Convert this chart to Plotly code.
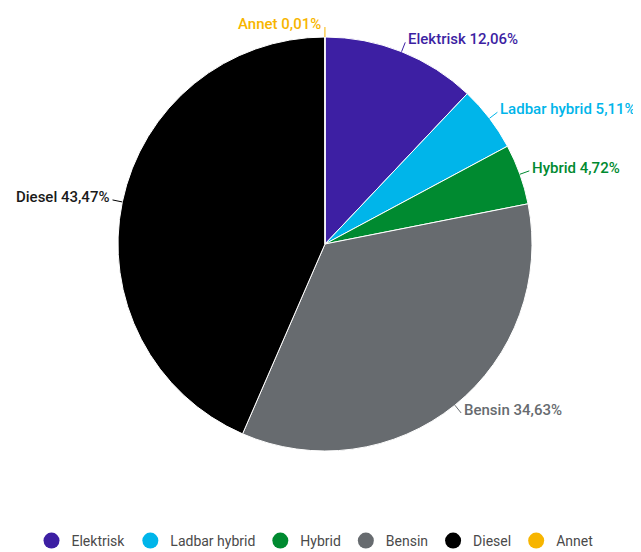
import math
import plotly.graph_objects as go

labels = ["Elektrisk", "Ladbar hybrid", "Hybrid", "Bensin", "Diesel", "Annet"]
values = [12.06, 5.11, 4.72, 34.63, 43.47, 0.01]
colors = ["#3D1FA3", "#00B5EA", "#008A30", "#676B6F", "#000000", "#F7B500"]
text_colors = ["#3D1FA3", "#00B5EA", "#008A30", "#676B6F", "#1A1A1A", "#F7B500"]

# page body has an 8px margin, so the figure is drawn 8px smaller
W, H = 633, 544
ML, MT = 2, 29
PW, PH = 630, 414
MR, MB = W - ML - PW, H - MT - PH
R = min(PW, PH) / 2
CX, CY = ML + PW / 2, MT + PH / 2
DIST = 10
GAP = 1
TEXT_DY = -3
LEGEND_Y = 533  # figure px


def to_paper(px, py):
    return (px - ML) / PW, 1 - (py - MT) / PH


fig = go.Figure()
fig.add_trace(go.Pie(
    labels=labels, values=values, sort=False, direction="clockwise", rotation=0,
    marker=dict(colors=colors, line=dict(color="#FFFFFF", width=1)),
    textinfo="none", showlegend=False, hoverinfo="label+value",
    domain=dict(x=[0, 1], y=[0, 1]),
))
for lab, col in zip(labels, colors):
    fig.add_trace(go.Scatter(x=[None], y=[None], mode="markers", name=lab,
                             marker=dict(color=col, size=16, symbol="circle")))

total = sum(values)
cum = 0.0
for lab, val, col, tcol in zip(labels, values, colors, text_colors):
    mid = (cum + val / 2) / total * 2 * math.pi
    cum += val
    sx, sy = math.sin(mid), -math.cos(mid)
    ex, ey = CX + R * sx, CY + R * sy
    lx, ly = CX + (R + DIST) * sx, CY + (R + DIST) * sy
    right = sx >= 0.001
    p0 = to_paper(ex, ey)
    p1 = to_paper(lx, ly)
    fig.add_shape(type="line", xref="paper", yref="paper",
                  x0=p0[0], y0=p0[1], x1=p1[0], y1=p1[1],
                  line=dict(color=col, width=1))
    tx = lx + GAP if right else lx - GAP - 1
    pt = to_paper(tx, ly + TEXT_DY)
    txt = f"{lab} {val:.2f}%".replace(".", ",")
    fig.add_annotation(xref="paper", yref="paper", x=pt[0], y=pt[1],
                       text=txt, showarrow=False,
                       xanchor="left" if right else "right", yanchor="middle",
                       font=dict(family="Roboto", size=15, color=tcol, weight=500))

fig.update_layout(
    width=W, height=H,
    margin=dict(l=ML, r=MR, t=MT, b=MB, autoexpand=False),
    paper_bgcolor="white", plot_bgcolor="white",
    xaxis=dict(visible=False), yaxis=dict(visible=False),
    legend=dict(orientation="h", x=0.5 - 10 / PW, xanchor="center",
                yref="container", y=(H - LEGEND_Y) / H, yanchor="middle",
                font=dict(family="Roboto", size=14, color="#4A4A4A")),
)
fig.write_html("out.html")
